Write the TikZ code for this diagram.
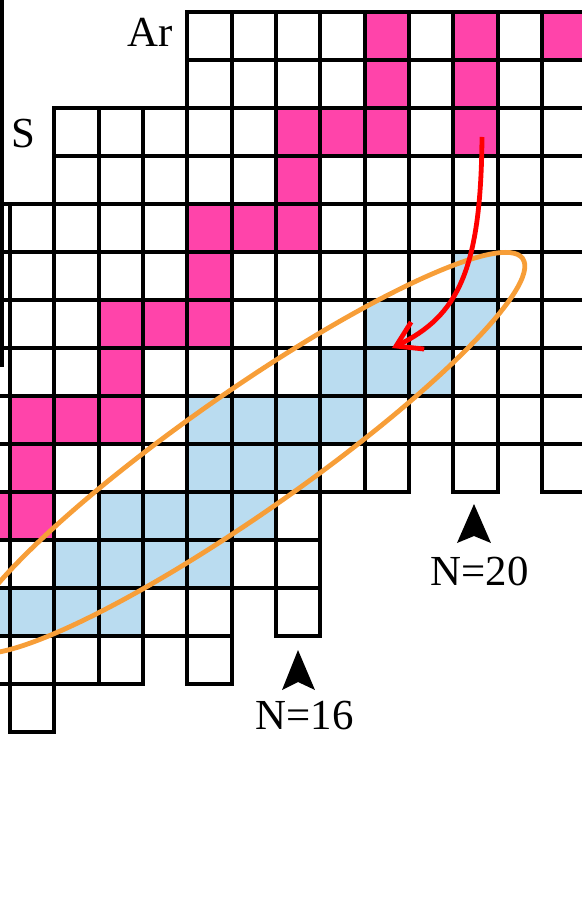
\documentclass[tikz,border=0pt]{standalone}
\usepackage{fontspec}
\setmainfont{Liberation Serif}
\usetikzlibrary{arrows.meta}
\definecolor{drippink}{HTML}{FF44AA}
\definecolor{islandblue}{HTML}{BADCF0}
\definecolor{ringorange}{HTML}{F79E38}

\begin{document}
\begin{tikzpicture}[x=22.165bp,y=24bp,
    cell/.style={draw=black,line width=1.9bp},
    lbl/.style={inner sep=0pt,font=\fontsize{21.5}{26}\selectfont}]
  \useasboundingbox (-0.2256,0.25) rectangle (12.903,-19);
  \clip (-0.2256,0.25) rectangle (12.903,-19);
  % pink cells
  \foreach \c/\r in {8/0,10/0,12/0,8/1,10/1,6/2,7/2,8/2,10/2,6/3,4/4,5/4,6/4,4/5,
                     2/6,3/6,4/6,2/7,0/8,1/8,2/8,0/9,-1/10,0/10}
    \fill[drippink] (\c,-\r) rectangle ++(1,-1);
  % blue cells
  \foreach \c/\r in {10/5,8/6,9/6,10/6,7/7,8/7,9/7,4/8,5/8,6/8,7/8,4/9,5/9,6/9,
                     2/10,3/10,4/10,5/10,1/11,2/11,3/11,4/11,-1/12,0/12,1/12,2/12}
    \fill[islandblue] (\c,-\r) rectangle ++(1,-1);
  % the grid, column by column (first row / last row)
  \foreach \c/\first/\last in {-1/4/13,0/4/14,1/2/13,2/2/13,3/2/12,4/0/13,5/0/11,
                               6/0/12,7/0/9,8/0/9,9/0/8,10/0/9,11/0/8,12/0/9}
    \foreach \r in {\first,...,\last}
      \draw[cell] (\c,-\r) rectangle ++(1,-1);
  % bar on the left
  \draw[line width=2.1bp] (-0.19,0.25) -- (-0.19,-7.396);
  % element labels
  \node[lbl,anchor=base east] (ar) at (3.677,-0.729) {Ar};
  \node[lbl,anchor=base] (s) at (0.293,-2.8125) {S};
  % the ring round the island
  \coordinate (ring) at (5.301,-9.1875);
  \draw[ringorange,line width=2.4bp,rotate around={35:(ring)}]
    (ring) ellipse [x radius=169.5bp,y radius=30bp];
  % red arrow
  \coordinate (from) at (10.647,-2.604);
  \coordinate (to) at (8.617,-7.0);
  \draw[red,line width=2.4bp,-{Straight Barb[length=12bp,width=15bp]}]
    (from) .. controls (10.625,-5.375) and (10.106,-6.333) .. (to);
  % magic numbers
  \fill (6.497,-13.292) -- (6.136,-14.125) -- (6.497,-13.958) -- (6.880,-14.125) -- cycle;
  \node[lbl,anchor=base] (n16) at (6.643,-14.958) {N=16};
  \fill (10.467,-10.25) -- (10.083,-11.0625) -- (10.467,-10.917) -- (10.850,-11.0625) -- cycle;
  \node[lbl,anchor=base] (n20) at (10.591,-11.958) {N=20};
\end{tikzpicture}
\end{document}
